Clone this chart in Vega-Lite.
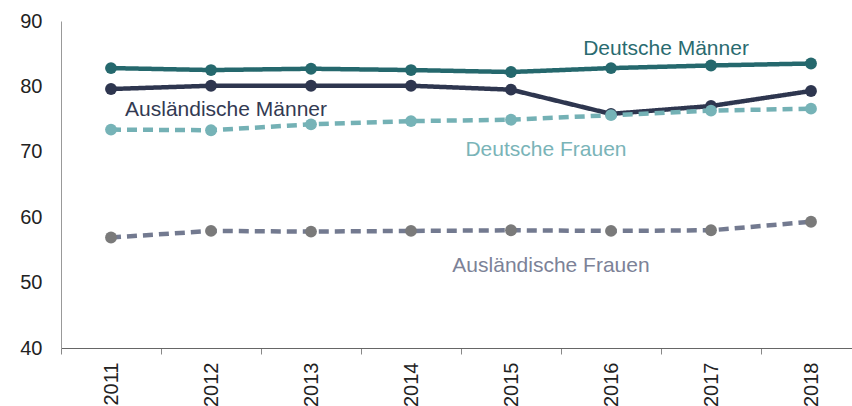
{
  "$schema": "https://vega.github.io/schema/vega-lite/v6.json",
  "width": 791,
  "height": 327,
  "autosize": {"type": "none"},
  "padding": {"left": 61, "top": 21, "right": 0, "bottom": 58},
  "config": {"view": {"stroke": null}, "font": "Liberation Sans"},
  "datasets": {
    "series": [
      {"year": "2011", "series": "Deutsche Männer", "value": 82.8},
      {"year": "2012", "series": "Deutsche Männer", "value": 82.5},
      {"year": "2013", "series": "Deutsche Männer", "value": 82.7},
      {"year": "2014", "series": "Deutsche Männer", "value": 82.5},
      {"year": "2015", "series": "Deutsche Männer", "value": 82.2},
      {"year": "2016", "series": "Deutsche Männer", "value": 82.8},
      {"year": "2017", "series": "Deutsche Männer", "value": 83.2},
      {"year": "2018", "series": "Deutsche Männer", "value": 83.5},
      {"year": "2011", "series": "Ausländische Männer", "value": 79.6},
      {"year": "2012", "series": "Ausländische Männer", "value": 80.1},
      {"year": "2013", "series": "Ausländische Männer", "value": 80.1},
      {"year": "2014", "series": "Ausländische Männer", "value": 80.1},
      {"year": "2015", "series": "Ausländische Männer", "value": 79.5},
      {"year": "2016", "series": "Ausländische Männer", "value": 75.8},
      {"year": "2017", "series": "Ausländische Männer", "value": 77.0},
      {"year": "2018", "series": "Ausländische Männer", "value": 79.3},
      {"year": "2011", "series": "Deutsche Frauen", "value": 73.4},
      {"year": "2012", "series": "Deutsche Frauen", "value": 73.3},
      {"year": "2013", "series": "Deutsche Frauen", "value": 74.2},
      {"year": "2014", "series": "Deutsche Frauen", "value": 74.7},
      {"year": "2015", "series": "Deutsche Frauen", "value": 74.9},
      {"year": "2016", "series": "Deutsche Frauen", "value": 75.6},
      {"year": "2017", "series": "Deutsche Frauen", "value": 76.3},
      {"year": "2018", "series": "Deutsche Frauen", "value": 76.6},
      {"year": "2011", "series": "Ausländische Frauen", "value": 56.9},
      {"year": "2012", "series": "Ausländische Frauen", "value": 57.9},
      {"year": "2013", "series": "Ausländische Frauen", "value": 57.8},
      {"year": "2014", "series": "Ausländische Frauen", "value": 57.9},
      {"year": "2015", "series": "Ausländische Frauen", "value": 58.0},
      {"year": "2016", "series": "Ausländische Frauen", "value": 57.9},
      {"year": "2017", "series": "Ausländische Frauen", "value": 58.0},
      {"year": "2018", "series": "Ausländische Frauen", "value": 59.3}
    ],
    "labels": [
      {"label": "Deutsche Männer", "year": "2016", "value": 84.8},
      {"label": "Ausländische Männer", "year": "2012", "value": 75.5},
      {"label": "Deutsche Frauen", "year": "2015", "value": 69.4},
      {"label": "Ausländische Frauen", "year": "2015", "value": 51.6}
    ]
  },
  "encoding": {
    "x": {
      "field": "year", "type": "ordinal",
      "scale": {"type": "band", "range": [0, 800], "paddingInner": 0, "paddingOuter": 0},
      "axis": {
        "title": null, "tickBand": "extent", "labelAngle": -90, "labelAlign": "right",
        "labelBaseline": "middle", "labelFontSize": 20, "labelColor": "#222222",
        "labelPadding": 8, "tickSize": 6, "tickColor": "#888888", "domainColor": "#666666", "grid": false
      }
    },
    "y": {
      "field": "value", "type": "quantitative",
      "scale": {"domain": [40, 90], "nice": false, "zero": false},
      "axis": {
        "title": null, "values": [40, 50, 60, 70, 80, 90], "ticks": false, "labelPadding": 19,
        "labelFontSize": 20, "labelColor": "#222222", "domainColor": "#999999", "grid": false
      }
    }
  },
  "layer": [
    {
      "data": {"name": "series"},
      "mark": {"type": "line", "strokeWidth": 4.5},
      "encoding": {
        "color": {
          "field": "series", "type": "nominal", "legend": null,
          "scale": {"domain": ["Deutsche Männer", "Ausländische Männer", "Deutsche Frauen", "Ausländische Frauen"],
                    "range": ["#25686d", "#2e364f", "#74b1b5", "#737a90"]}
        },
        "strokeDash": {
          "field": "series", "type": "nominal", "legend": null,
          "scale": {"domain": ["Deutsche Männer", "Ausländische Männer", "Deutsche Frauen", "Ausländische Frauen"],
                    "range": [[1, 0], [1, 0], [10, 6], [10, 6]]}
        }
      }
    },
    {
      "data": {"name": "series"},
      "mark": {"type": "point", "filled": true, "size": 140, "opacity": 1},
      "encoding": {
        "color": {
          "field": "series", "type": "nominal", "legend": null,
          "scale": {"domain": ["Deutsche Männer", "Ausländische Männer", "Deutsche Frauen", "Ausländische Frauen"],
                    "range": ["#25686d", "#2e364f", "#76b3b7", "#7a7a7a"]}
        }
      }
    },
    {
      "data": {"name": "labels"},
      "transform": [{"filter": "datum.label === 'Deutsche Männer'"}],
      "mark": {"type": "text", "fontSize": 21, "baseline": "alphabetic", "align": "center", "dx": 55, "color": "#2a6b70"},
      "encoding": {"text": {"field": "label"}}
    },
    {
      "data": {"name": "labels"},
      "transform": [{"filter": "datum.label === 'Ausländische Männer'"}],
      "mark": {"type": "text", "fontSize": 21, "baseline": "alphabetic", "align": "center", "dx": 15, "color": "#333a52"},
      "encoding": {"text": {"field": "label"}}
    },
    {
      "data": {"name": "labels"},
      "transform": [{"filter": "datum.label === 'Deutsche Frauen'"}],
      "mark": {"type": "text", "fontSize": 21, "baseline": "alphabetic", "align": "center", "dx": 35, "color": "#7ab4b8"},
      "encoding": {"text": {"field": "label"}}
    },
    {
      "data": {"name": "labels"},
      "transform": [{"filter": "datum.label === 'Ausländische Frauen'"}],
      "mark": {"type": "text", "fontSize": 21, "baseline": "alphabetic", "align": "center", "dx": 40, "color": "#7c8297"},
      "encoding": {"text": {"field": "label"}}
    }
  ],
  "resolve": {"scale": {"color": "independent"}}
}
